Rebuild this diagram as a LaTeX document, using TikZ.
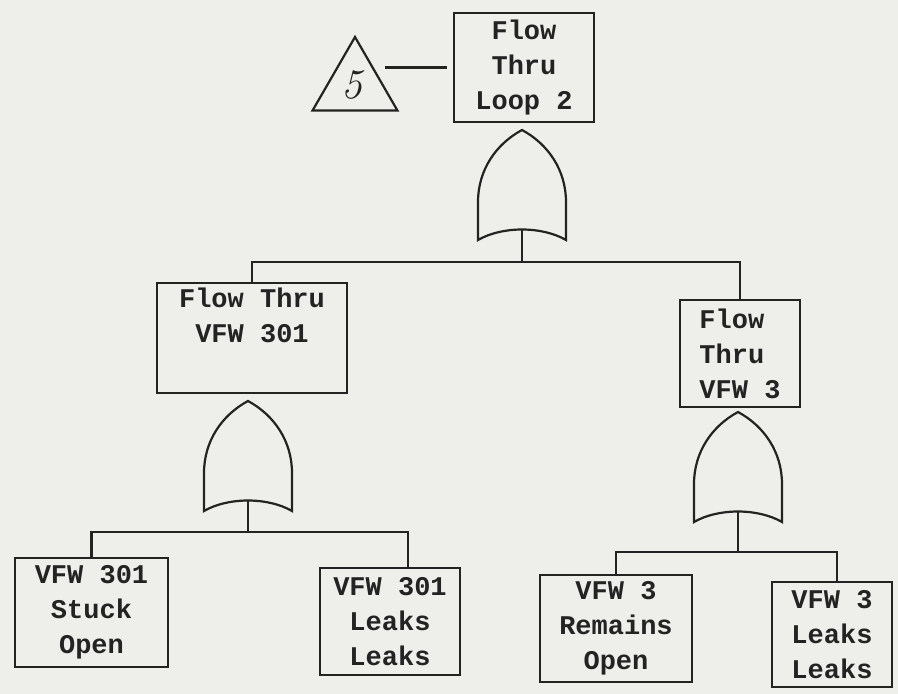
\documentclass[tikz,border=0pt]{standalone}
\usepackage{fontspec}
\setmonofont{Liberation Mono}
\usetikzlibrary{shapes.geometric}
\definecolor{paper}{RGB}{238,238,235}
\definecolor{ink}{RGB}{35,35,35}
\tikzset{
  ln/.style={line width=2.2pt, draw=ink},
  box/.style={ln, rectangle, inner sep=0pt, align=center, text=ink,
    font=\ttfamily\bfseries\fontsize{27}{35}\selectfont},
  orgate/.pic={
    \draw[ln, line join=miter] (0,0) .. controls (-26,14) and (-44,40) .. (-44,72) -- (-44,110)
      .. controls (-20,96) and (20,96) .. (44,110) -- (44,72)
      .. controls (44,40) and (26,14) .. (0,0) -- cycle;
    \coordinate (-bot) at (0,99.5);
  }
}
\begin{document}
\begin{tikzpicture}[x=1pt,y=-1pt]
\fill[paper] (0,0) rectangle (898,694);
\useasboundingbox (0,0) rectangle (898,694);

% top event and transfer triangle
\node[box, minimum width=140pt, minimum height=109pt] (top) at (524,67.5) {Flow\\Thru\\Loop 2};
\node[ln, regular polygon, regular polygon sides=3, minimum size=98pt, inner sep=0pt,
      text=ink, font=\itshape\fontsize{42}{42}\selectfont] (tri) at (355,86) {\hspace*{-6pt}\raisebox{3pt}{5}};
\draw[ln] (tri.east |- top.west) -- ([xshift=-6pt]top.west);

% gates
\pic (g0) at (522,130) {orgate};
\pic (g1) at (248,401) {orgate};
\pic (g2) at (738,412) {orgate};

% intermediate events
\node[box, minimum width=190pt, minimum height=110pt] (fvl) at (252,338) {Flow Thru\\VFW 301\\\strut};
\node[box, minimum width=120pt, minimum height=107pt, align=left] (fv3) at (740,353.5) {Flow\\Thru\\VFW 3};

% basic events
\node[box, minimum width=153pt, minimum height=109pt] (l1) at (91.5,612.5) {VFW 301\\Stuck\\Open};
\node[box, minimum width=140pt, minimum height=107pt] (l2) at (390,621.5) {VFW 301\\Leaks\\Leaks};
\node[box, minimum width=152pt, minimum height=107pt] (r1) at (616,628.5) {VFW 3\\Remains\\Open};
\node[box, minimum width=120pt, minimum height=105pt] (r2) at (832,634.5) {VFW 3\\Leaks\\Leaks};

% connectors
\coordinate (bar0) at (522,262);
\coordinate (bar1) at (248,532);
\coordinate (bar2) at (738,552);
\draw[ln] (g0-bot) -- (bar0);
\draw[ln] (fvl.north) |- (bar0) -| (fv3.north);
\draw[ln] (g1-bot) -- (bar1);
\draw[ln] (l1.north) |- (bar1) -| ([xshift=18pt]l2.north);
\draw[ln] (g2-bot) -- (bar2);
\draw[ln] (r1.north) |- (bar2) -| ([xshift=5pt]r2.north);
\end{tikzpicture}
\end{document}
